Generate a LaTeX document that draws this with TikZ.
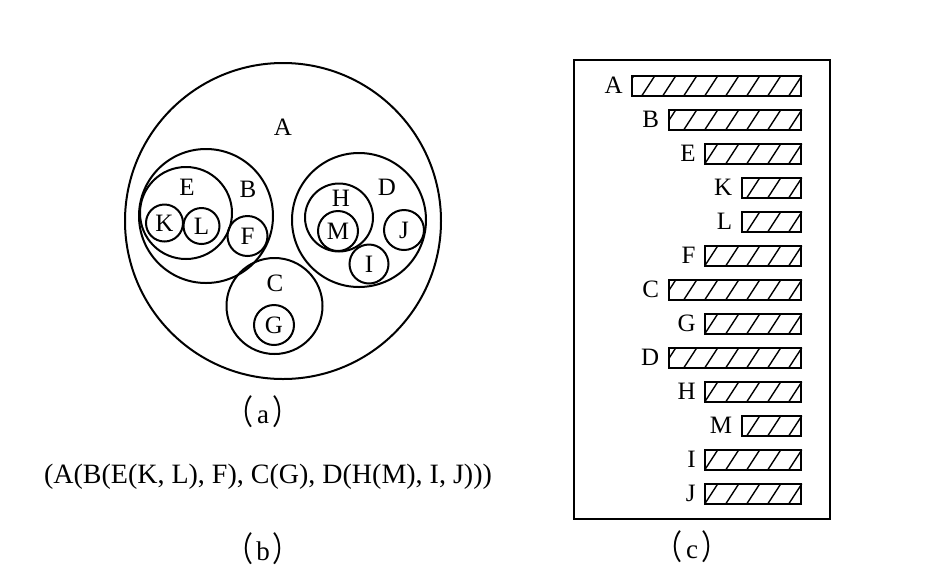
\documentclass[tikz,border=0pt]{standalone}
\usepackage{fontspec}
\setmainfont{Liberation Serif}
\newfontfamily\cjk{Noto Sans CJK SC}
\newcommand\lpar{\raisebox{-0.06em}{\scalebox{1}[1.25]{\cjk （}}\hspace{0.12em}}
\newcommand\rpar{\hspace{0.12em}\raisebox{-0.06em}{\scalebox{1}[1.25]{\cjk ）}}}

\begin{document}
\begin{tikzpicture}[x=0.5pt, y=-0.5pt,
    set/.style={draw, circle, line width=1pt, inner sep=0pt},
    letter/.style={font=\fontsize{12.5}{14}\selectfont, inner sep=0pt},
    bar/.style={draw, line width=1pt, inner sep=0pt, minimum height=10pt, anchor=east},
    hatch/.style={line width=0.7pt},
    caption/.style={font=\fontsize{13.5}{15}\selectfont, inner sep=0pt}]
    \useasboundingbox (0,0) rectangle (938,580);

    \node[set, minimum size=158pt] (setA) at (283,221) {};
    \node[set, minimum size=67pt] (setB) at (206,216) {};
    \node[set, minimum size=46pt] (setE) at (186,213) {};
    \node[set, minimum size=18.5pt, letter] (setK) at (164.5,223) {K};
    \node[set, minimum size=18pt, letter] (setL) at (201.5,226) {L};
    \node[set, minimum size=20pt, letter] (setF) at (247.5,236) {F};
    \node[set, minimum size=48pt] (setC) at (274.5,306) {};
    \node[set, minimum size=20pt, letter] (setG) at (274,325) {G};
    \node[set, minimum size=67pt] (setD) at (359,220) {};
    \node[set, minimum size=34pt] (setH) at (339,217.5) {};
    \node[set, minimum size=20pt, letter] (setM) at (338,231) {M};
    \node[set, minimum size=19.5pt, letter] (setI) at (369,264) {I};
    \node[set, minimum size=20pt, letter] (setJ) at (404,230) {J};

    \node[letter] (nameA) at (283,127) {A};
    \node[letter] (nameB) at (248,189) {B};
    \node[letter] (nameE) at (187,187) {E};
    \node[letter] (nameC) at (275,283) {C};
    \node[letter] (nameD) at (387,187) {D};
    \node[letter] (nameH) at (341,198) {H};

    \node[caption] (capa) at (263,412) {\lpar a\rpar};
    \node[font=\fontsize{14}{16}\selectfont, inner sep=0pt, anchor=base] (expr) at (268,483)
        {(A(B(E(K, L), F), C(G), D(H(M), I, J)))};
    \node[caption] (capb) at (263,549) {\lpar b\rpar};

    \node[draw, line width=1pt, minimum width=128pt, minimum height=229.5pt] (frame) at (702,289.5) {};
    \foreach \name/\lev [count=\i from 0] in {A/0,B/1,E/2,K/3,L/3,F/2,C/1,G/2,D/1,H/2,M/3,I/2,J/2} {
        \pgfmathsetmacro\xl{633+36.5*\lev}
        \pgfmathsetmacro\yc{85.5+34*\i}
        \pgfmathsetmacro\w{(802-\xl)*0.5}
        \begin{scope}
            \clip (\xl,\yc-10) rectangle (802,\yc+10);
            \foreach \k in {0,...,9}
                \draw[hatch] (802-21*\k,\yc-10) -- ++(-13,20);
        \end{scope}
        \node[bar, minimum width=\w pt] (bar\name) at (802,\yc) {};
        \node[letter, anchor=east] (lab\name) at ([xshift=-4pt]bar\name.west) {\name};
    }
    \node[caption] (capc) at (692,547) {\lpar c\rpar};
\end{tikzpicture}
\end{document}
